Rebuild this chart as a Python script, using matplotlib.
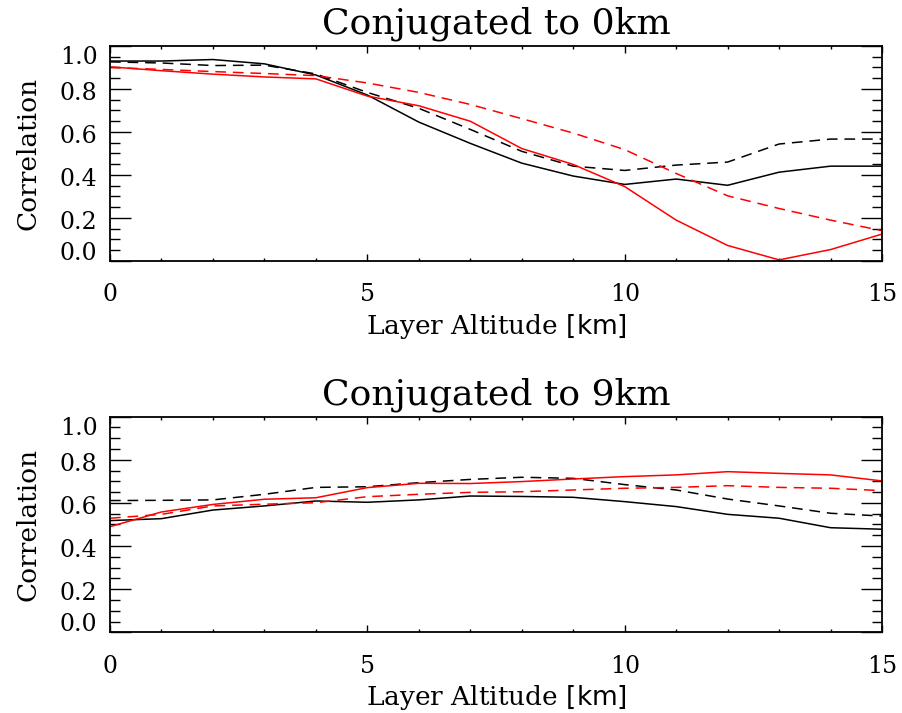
import numpy as np
import matplotlib
matplotlib.use("Agg")
import matplotlib.pyplot as plt
import matplotlib.transforms as mtransforms
from matplotlib.ticker import MultipleLocator, FormatStrFormatter

plt.rcParams['font.family'] = ['DejaVu Serif']
plt.rcParams['mathtext.fontset'] = 'dejavuserif'

# layer altitude [km]
altitude = np.arange(0, 16)

# conjugated to 0 km
black_solid_0 = [0.930, 0.930, 0.937, 0.917, 0.865, 0.772, 0.646, 0.547,
                 0.455, 0.395, 0.356, 0.381, 0.352, 0.413, 0.441, 0.441]
black_dash_0 = [0.926, 0.921, 0.909, 0.911, 0.870, 0.784, 0.710, 0.612,
                0.510, 0.441, 0.421, 0.446, 0.460, 0.544, 0.567, 0.567]
red_solid_0 = [0.903, 0.885, 0.869, 0.856, 0.847, 0.767, 0.722, 0.650,
               0.523, 0.449, 0.346, 0.190, 0.072, 0.005, 0.053, 0.125]
red_dash_0 = [0.900, 0.891, 0.881, 0.872, 0.862, 0.828, 0.784, 0.728,
              0.662, 0.595, 0.518, 0.407, 0.303, 0.244, 0.190, 0.141]

# conjugated to 9 km
black_solid_9 = [0.518, 0.527, 0.567, 0.586, 0.609, 0.603, 0.614, 0.632,
                 0.630, 0.626, 0.606, 0.583, 0.547, 0.529, 0.485, 0.478]
black_dash_9 = [0.611, 0.612, 0.614, 0.640, 0.672, 0.675, 0.694, 0.709,
                0.719, 0.714, 0.685, 0.660, 0.618, 0.586, 0.552, 0.539]
red_solid_9 = [0.490, 0.558, 0.593, 0.617, 0.624, 0.671, 0.691, 0.690,
               0.699, 0.711, 0.722, 0.730, 0.745, 0.737, 0.730, 0.702]
red_dash_9 = [0.529, 0.547, 0.586, 0.594, 0.601, 0.629, 0.640, 0.649,
              0.652, 0.660, 0.668, 0.672, 0.680, 0.672, 0.668, 0.657]

panels = [
    ("Conjugated to 0km", black_solid_0, black_dash_0, red_solid_0, red_dash_0),
    ("Conjugated to 9km", black_solid_9, black_dash_9, red_solid_9, red_dash_9),
]

fig = plt.figure(figsize=(9.03, 7.13), dpi=100)
# axes boxes in figure fractions (left, bottom, width, height)
boxes = [[0.1218, 0.634, 0.855, 0.3015], [0.1218, 0.1132, 0.855, 0.3024]]

dash = (0, (7, 4.5))
for box, (title, bs, bd, rs, rd) in zip(boxes, panels):
    ax = fig.add_axes(box)
    ax.plot(altitude, bs, color='black', lw=1.1)
    ax.plot(altitude, bd, color='black', lw=1.1, linestyle=dash)
    ax.plot(altitude, rs, color='#ff0000', lw=1.1)
    ax.plot(altitude, rd, color='#ff0000', lw=1.1, linestyle=dash)

    ax.set_xlim(0, 15)
    ax.set_ylim(0, 1)
    ax.xaxis.set_major_locator(MultipleLocator(5))
    ax.xaxis.set_minor_locator(MultipleLocator(1))
    ax.yaxis.set_major_locator(MultipleLocator(0.2))
    ax.yaxis.set_minor_locator(MultipleLocator(0.05))
    ax.yaxis.set_major_formatter(FormatStrFormatter('%.1f'))

    ax.tick_params(which='both', direction='in', top=True, right=True, width=1.0)
    ax.tick_params(axis='x', which='major', length=5, pad=16, labelsize=17)
    ax.tick_params(axis='x', which='minor', length=2)
    ax.tick_params(axis='y', which='major', length=15, pad=9, labelsize=17)
    ax.tick_params(axis='y', which='minor', length=7)
    for sp in ax.spines.values():
        sp.set_linewidth(1.3)

    ax.set_title(title, fontsize=26, pad=9)
    ax.set_ylabel("Correlation", fontsize=19, labelpad=14)
    ax.set_xlabel(r"Layer Altitude $\mathsf{[km]}$", fontsize=19, labelpad=4)

    # IDL-style nudging of the end labels inward
    fig.canvas.draw()
    for lab in ax.get_yticklabels():
        txt = lab.get_text()
        dy = -2
        if txt == "1.0":
            dy = -9
        elif txt == "0.0":
            dy = 10
        lab.set_transform(lab.get_transform() +
                          mtransforms.ScaledTranslation(0, dy / 100, fig.dpi_scale_trans))

fig.savefig("out.png", dpi=100)
